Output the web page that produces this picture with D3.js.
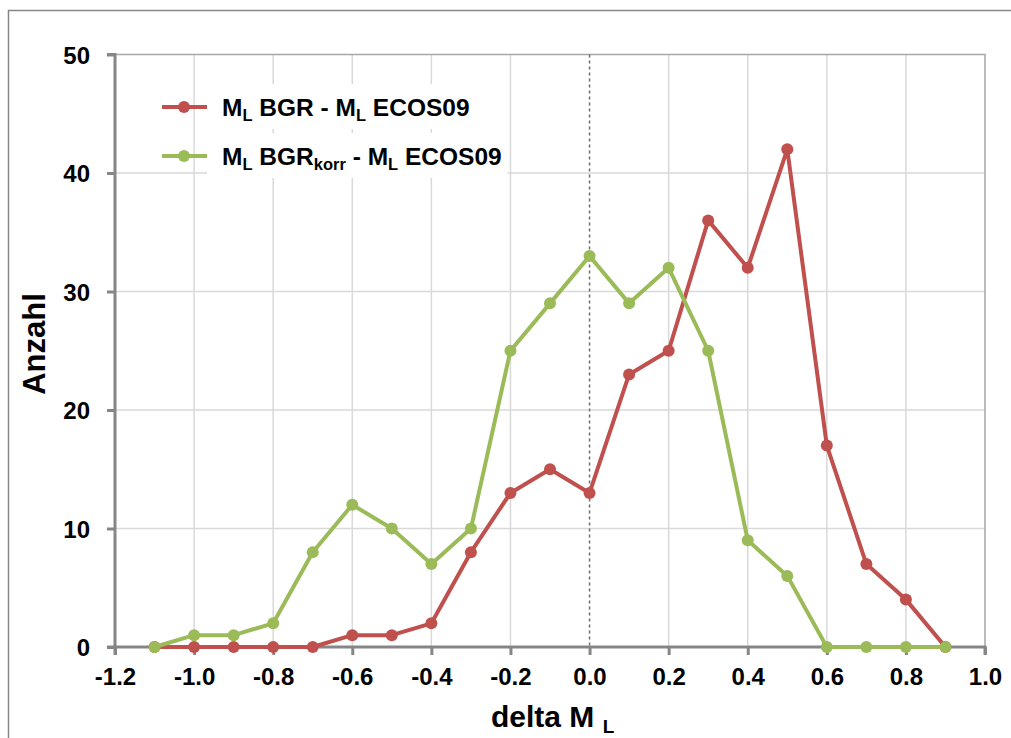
<!DOCTYPE html>
<html>
<head>
<meta charset="utf-8">
<script src="https://cdn.jsdelivr.net/npm/d3@7"></script>
<style>
  body { margin: 0; background: #fff; }
  svg { display: block; font-family: Arial, "Liberation Sans", sans-serif; }
</style>
</head>
<body>
<svg id="chart" width="1011" height="738"></svg>
<script>
// delta M_L classes
var deltaML = [-1.1, -1.0, -0.9, -0.8, -0.7, -0.6, -0.5, -0.4, -0.3, -0.2, -0.1,
               0.0, 0.1, 0.2, 0.3, 0.4, 0.5, 0.6, 0.7, 0.8, 0.9];
// counts per class
var bgrCounts  = [0, 0, 0, 0, 0, 1, 1, 2, 8, 13, 15, 13, 23, 25, 36, 32, 42, 17, 7, 4, 0];
var korrCounts = [0, 1, 1, 2, 8, 12, 10, 7, 10, 25, 29, 33, 29, 32, 25, 9, 6, 0, 0, 0, 0];

var xTicks = [-1.2, -1.0, -0.8, -0.6, -0.4, -0.2, 0.0, 0.2, 0.4, 0.6, 0.8, 1.0];
var yTicks = [0, 10, 20, 30, 40, 50];

var svg = d3.select("#chart");

var x = d3.scaleLinear().domain([-1.2, 1.0]).range([115, 985]);
var y = d3.scaleLinear().domain([0, 50]).range([647, 54.5]);

// outer frame
svg.append("rect")
    .attr("x", 8.5).attr("y", 10.5)
    .attr("width", 1020).attr("height", 760)
    .attr("fill", "none")
    .attr("stroke", "#878787")
    .attr("stroke-width", 1.5);

// gridlines
svg.append("g").selectAll("line")
    .data(yTicks.filter(d => d > 0 && d < 50))
    .enter().append("line")
    .attr("x1", x(-1.2)).attr("x2", x(1.0))
    .attr("y1", d => y(d)).attr("y2", d => y(d))
    .attr("stroke", "#d9d9d9").attr("stroke-width", 1.5);

svg.append("g").selectAll("line")
    .data(xTicks.filter(d => d > -1.2 && d < 0.99 && Math.abs(d) > 1e-9))
    .enter().append("line")
    .attr("x1", d => x(d)).attr("x2", d => x(d))
    .attr("y1", y(0)).attr("y2", y(50))
    .attr("stroke", "#d9d9d9").attr("stroke-width", 1.5);

// plot border (top and right)
svg.append("path")
    .attr("d", `M${x(-1.2)},${y(50)}H${x(1.0)}V${y(0)}`)
    .attr("fill", "none")
    .attr("stroke", "#a6a6a6")
    .attr("stroke-width", 1.5);

// dashed line at zero
svg.append("line")
    .attr("x1", x(0)).attr("x2", x(0))
    .attr("y1", y(50)).attr("y2", y(0))
    .attr("stroke", "#6e6e6e")
    .attr("stroke-width", 1.5)
    .attr("stroke-dasharray", "3,3");

// axes
var fmt = d3.format(".1f");
var xAxis = d3.axisBottom(x).tickValues(xTicks).tickSize(8).tickPadding(13)
    .tickFormat(d => fmt(d).replace("\u2212", "-"));
var yAxis = d3.axisLeft(y).tickValues(yTicks).tickSize(8).tickPadding(17);

var gx = svg.append("g").attr("transform", `translate(0,${y(0)})`).call(xAxis);
var gy = svg.append("g").attr("transform", `translate(${x(-1.2)},0)`).call(yAxis);

[gx, gy].forEach(g => {
    g.select(".domain").attr("stroke", "#868686").attr("stroke-width", 3);
    g.selectAll(".tick line").attr("stroke", "#868686").attr("stroke-width", 3);
    g.selectAll(".tick text")
        .attr("fill", "#000")
        .style("font-size", "24px")
        .style("font-weight", "bold")
        .style("font-family", "Arial, 'Liberation Sans', sans-serif");
});
gx.select(".domain").attr("d", `M${x(-1.2)},8V0H${x(1.0)}V8`);
gy.select(".domain").attr("d", `M-8,${y(50)}H0V${y(0)}H-8`);
gy.selectAll(".tick text").attr("dy", "0.36em");

// series
var line = d3.line()
    .x(d => x(d[0]))
    .y(d => y(d[1]));

var series = [
    { counts: bgrCounts, color: "#c0504d" },
    { counts: korrCounts, color: "#9bbb59" }
];

series.forEach(s => {
    var pts = deltaML.map((d, i) => [d, s.counts[i]]);
    svg.append("path")
        .datum(pts)
        .attr("d", line)
        .attr("fill", "none")
        .attr("stroke", s.color)
        .attr("stroke-width", 4)
        .attr("stroke-linejoin", "round");
    svg.append("g").selectAll("circle")
        .data(pts)
        .enter().append("circle")
        .attr("cx", d => x(d[0]))
        .attr("cy", d => y(d[1]))
        .attr("r", 6)
        .attr("fill", s.color);
});

// legend
var legendItems = [
    { color: "#c0504d", parts: [["M", ""], ["L", "sub"], [" BGR - M", ""], ["L", "sub"], [" ECOS09", ""]] },
    { color: "#9bbb59", parts: [["M", ""], ["L", "sub"], [" BGR", ""], ["korr", "sub"], [" - M", ""], ["L", "sub"], [" ECOS09", ""]] }
];
var legendY = [107, 156];

legendItems.forEach((item, i) => {
    var g = svg.append("g").attr("transform", `translate(0,${legendY[i]})`);
    var bg = g.append("rect").attr("fill", "#fff");
    var t = g.append("text")
        .attr("x", 222).attr("y", 8.5)
        .style("font-size", "24.5px")
        .style("font-weight", "bold")
        .attr("fill", "#000");
    var prevSub = false;
    item.parts.forEach(p => {
        var isSub = p[1] === "sub";
        var ts = t.append("tspan").text(p[0])
            .attr("dy", isSub ? (prevSub ? 0 : 5) : (prevSub ? -5 : 0));
        if (isSub) ts.style("font-size", "16.5px");
        prevSub = isSub;
    });
    var bb = t.node().getBBox();
    bg.attr("x", 207).attr("y", -23)
        .attr("width", bb.x + bb.width - 207 + 6)
        .attr("height", 45);
    g.append("line")
        .attr("x1", 162).attr("x2", 207)
        .attr("y1", 0).attr("y2", 0)
        .attr("stroke", item.color).attr("stroke-width", 4);
    g.append("circle")
        .attr("cx", 184).attr("cy", 0).attr("r", 6)
        .attr("fill", item.color);
});

// axis titles
svg.append("text")
    .attr("transform", "translate(45,344) rotate(-90)")
    .attr("text-anchor", "middle")
    .style("font-size", "31px")
    .style("font-weight", "bold")
    .text("Anzahl");

var xt = svg.append("text")
    .attr("x", 491).attr("y", 727)
    .style("font-size", "30px")
    .style("font-weight", "bold");
xt.append("tspan").text("delta M ");
xt.append("tspan").text("L").style("font-size", "19px").attr("dy", 6);
</script>
</body>
</html>
